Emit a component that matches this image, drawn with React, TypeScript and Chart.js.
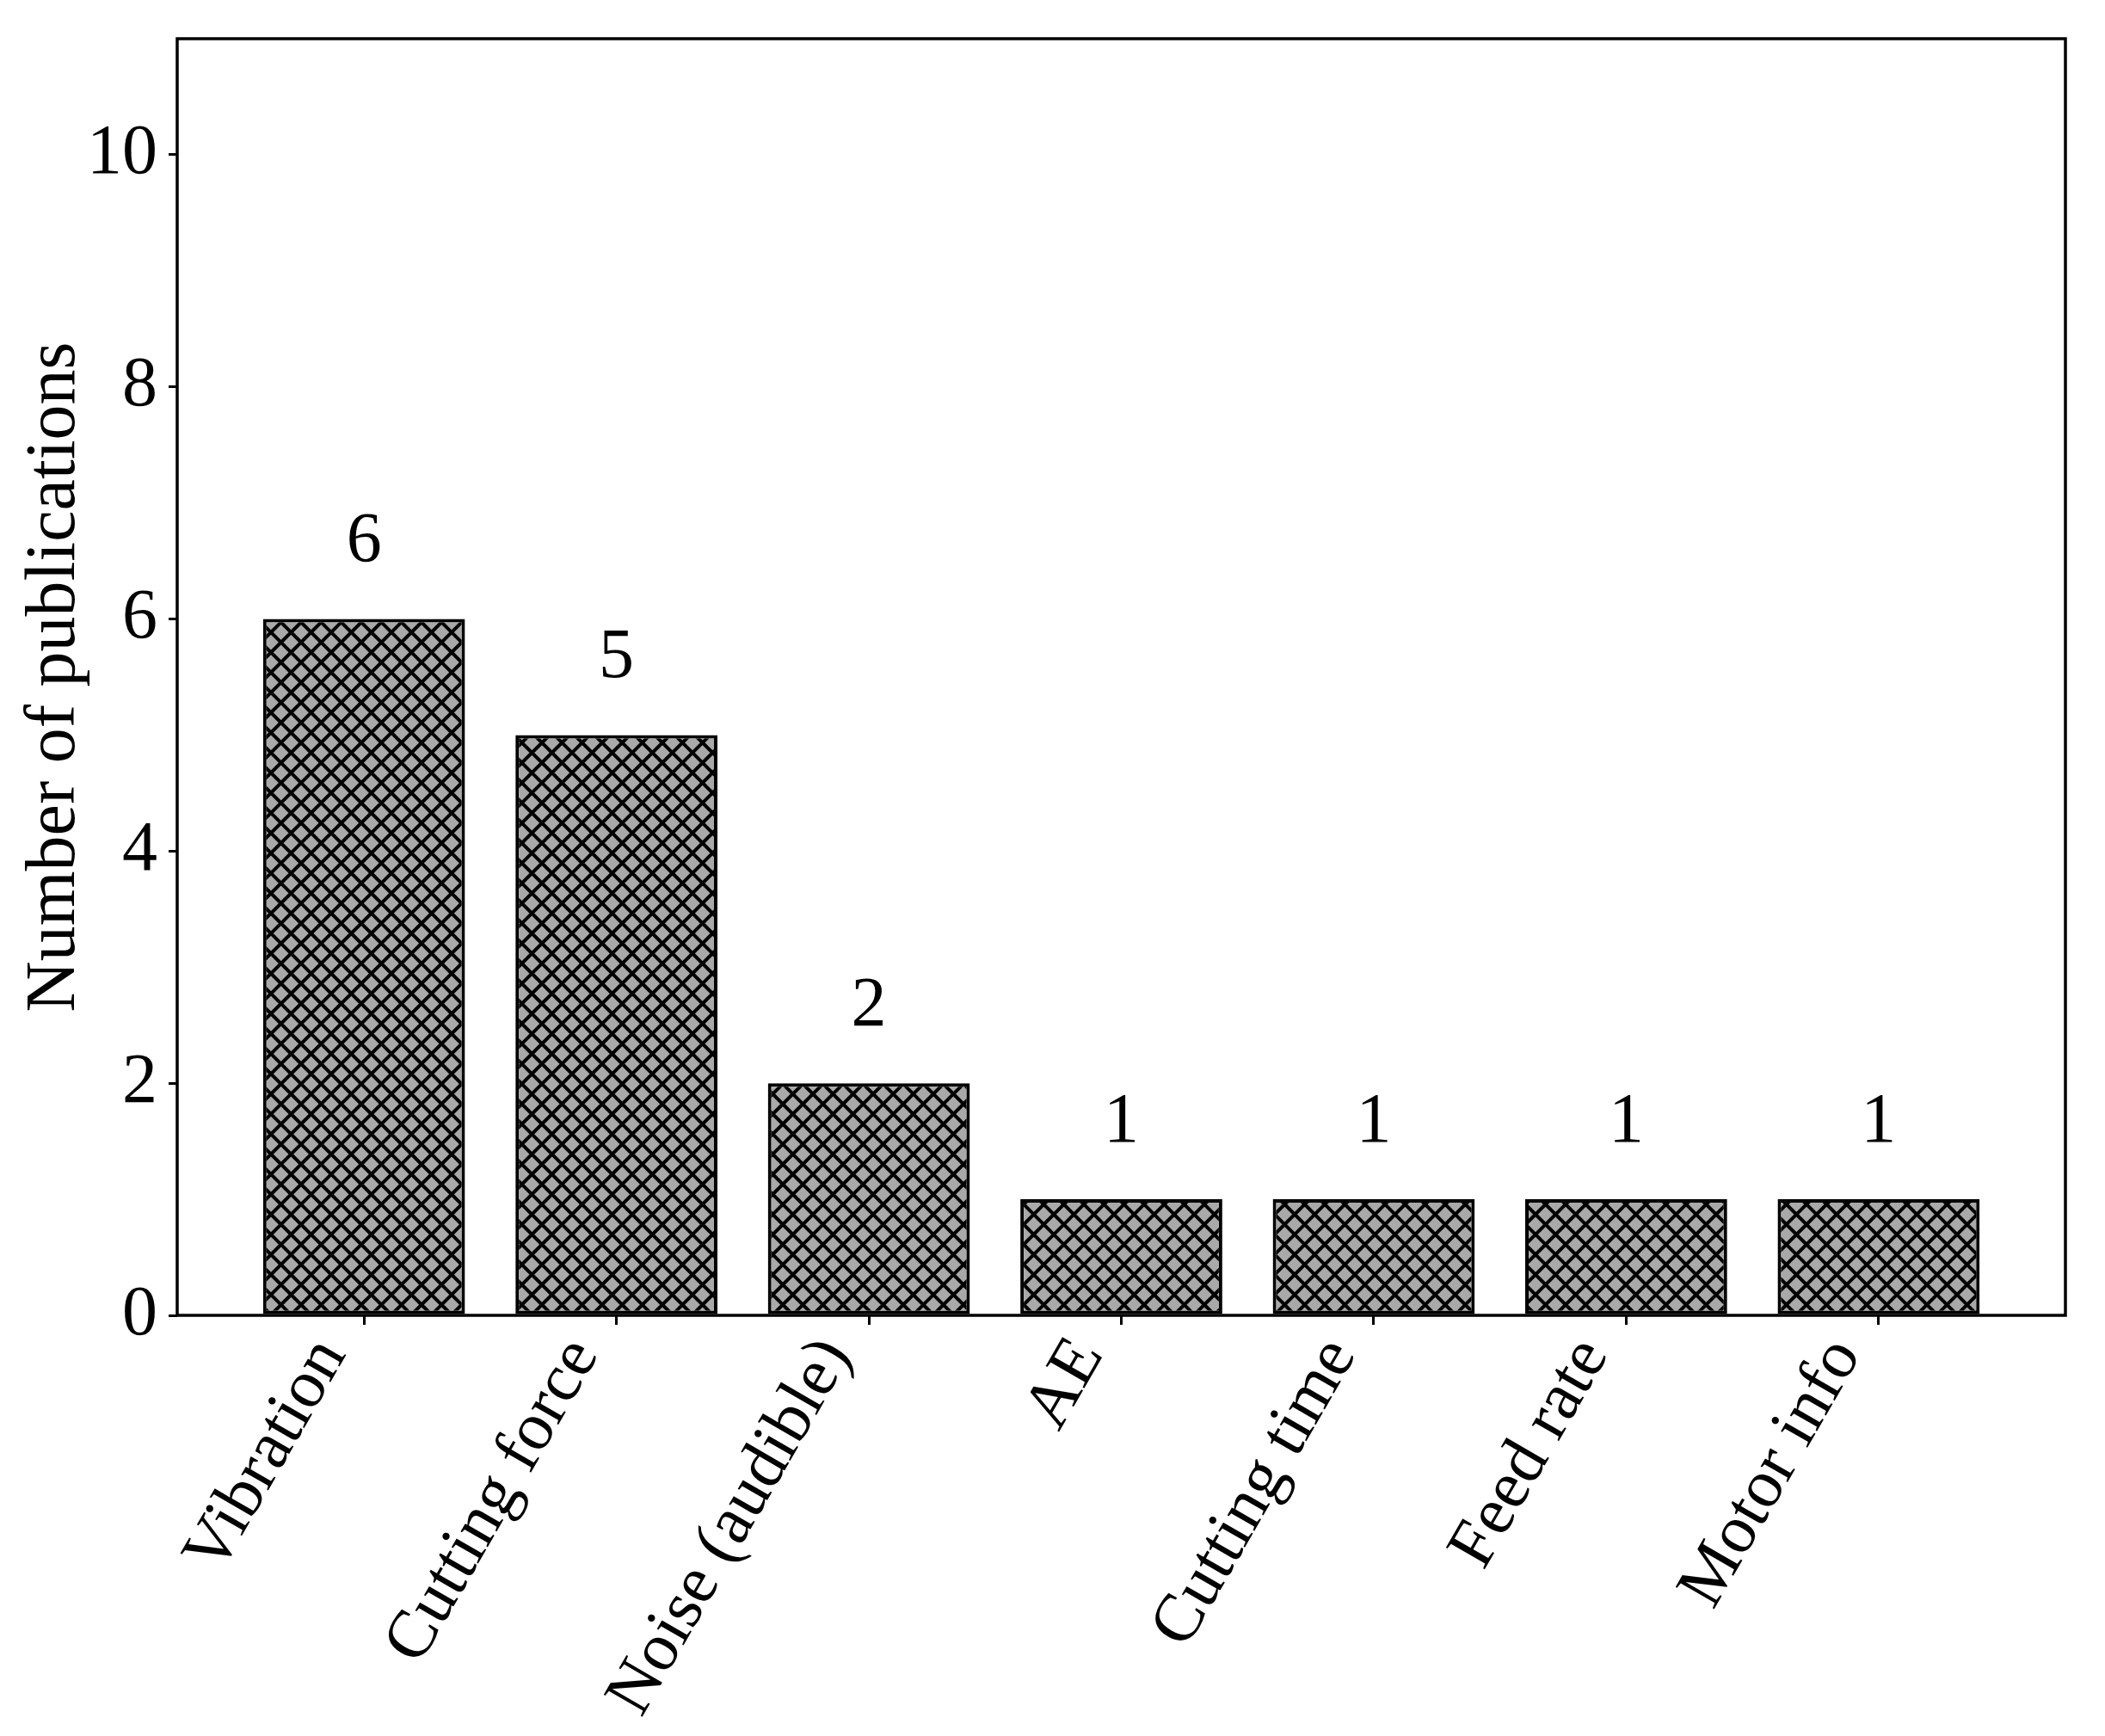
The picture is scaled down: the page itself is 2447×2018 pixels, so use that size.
import React, { useEffect, useRef } from "react";
import { Chart, registerables } from "chart.js";

Chart.register(...registerables);

const categories = [
  "Vibration",
  "Cutting force",
  "Noise (audible)",
  "AE",
  "Cutting time",
  "Feed rate",
  "Motor info",
];
const publications = [6, 5, 2, 1, 1, 1, 1];
const yTicks = [0, 2, 4, 6, 8, 10];
const yTitle = "Number of publications";

const FONT = "'Liberation Serif', 'DejaVu Serif', serif";
const FONT_SIZE = 82;
const X_FONT_SIZE = 79;

function makeHatch(): CanvasPattern | string {
  const period = 70 / 3;
  const size = 70;
  const c = document.createElement("canvas");
  c.width = size;
  c.height = size;
  const ctx = c.getContext("2d");
  if (!ctx) return "#a9a9a9";
  ctx.fillStyle = "#a9a9a9";
  ctx.fillRect(0, 0, size, size);
  ctx.strokeStyle = "#000";
  ctx.lineWidth = 4;
  ctx.beginPath();
  for (let k = -6; k <= 6; k++) {
    const o = k * period;
    ctx.moveTo(-size + o, -size);
    ctx.lineTo(2 * size + o, 2 * size);
    ctx.moveTo(-size, 2 * size + o - size);
    ctx.lineTo(2 * size, -size + o - size);
  }
  ctx.stroke();
  const p = ctx.createPattern(c, "repeat");
  return p || "#a9a9a9";
}

const framePlugin = {
  id: "frame",
  afterDraw(chart: any) {
    const { ctx, chartArea } = chart;
    ctx.save();
    ctx.strokeStyle = "#000";
    ctx.lineWidth = 3.5;
    ctx.strokeRect(
      chartArea.left,
      chartArea.top,
      chartArea.right - chartArea.left,
      chartArea.bottom - chartArea.top
    );
    ctx.restore();
  },
};

const valueLabelPlugin = {
  id: "valueLabels",
  afterDatasetsDraw(chart: any) {
    const { ctx } = chart;
    const meta = chart.getDatasetMeta(0);
    const yScale = chart.scales.y;
    ctx.save();
    ctx.fillStyle = "#000";
    ctx.font = `${FONT_SIZE}px ${FONT}`;
    ctx.textAlign = "center";
    ctx.textBaseline = "alphabetic";
    meta.data.forEach((bar: any, i: number) => {
      const v = publications[i];
      ctx.fillText(String(v), bar.x, yScale.getPixelForValue(v + 0.5));
    });
    ctx.restore();
  },
};

export default function App() {
  const ref = useRef<HTMLCanvasElement | null>(null);

  useEffect(() => {
    if (!ref.current) return;
    const hatch = makeHatch();
    const chart = new Chart(ref.current, {
      type: "bar",
      data: {
        datasets: [
          {
            data: publications.map((v, i) => ({ x: i, y: v })),
            backgroundColor: hatch as any,
            borderColor: "#000",
            borderWidth: 4,
            borderSkipped: false,
            barPercentage: 0.8,
            categoryPercentage: 1,
          },
        ],
      },
      options: {
        responsive: false,
        animation: false,
        devicePixelRatio: 1,
        layout: { padding: { left: 0, top: 45, right: 46, bottom: 0 } },
        plugins: {
          legend: { display: false },
          tooltip: { enabled: false },
        },
        scales: {
          x: {
            type: "linear",
            min: -0.74,
            max: 6.74,
            offset: false,
            afterBuildTicks: (scale: any) => {
              scale.ticks = categories.map((_, i) => ({ value: i }));
            },
            afterFit: (scale: any) => {
              scale.height = 2018 - 1529;
              scale.paddingLeft = 0;
              scale.paddingRight = 0;
            },
            border: { display: false },
            grid: {
              display: true,
              offset: false,
              drawOnChartArea: false,
              drawTicks: true,
              tickLength: 11,
              color: "#000",
              lineWidth: 3,
            },
            ticks: {
              autoSkip: false,
              minRotation: 60,
              maxRotation: 60,
              padding: 0,
              labelOffset: -38,
              color: "#000",
              font: { family: FONT, size: X_FONT_SIZE },
              callback: (value: any) => categories[Math.round(Number(value))] ?? "",
            },
          },
          y: {
            type: "linear",
            min: 0,
            max: 11,
            afterBuildTicks: (scale: any) => {
              scale.ticks = yTicks.map((v) => ({ value: v }));
            },
            afterFit: (scale: any) => {
              scale.width = 206;
              scale.paddingTop = 0;
              scale.paddingBottom = 0;
            },
            border: { display: false },
            grid: {
              display: true,
              drawOnChartArea: false,
              drawTicks: true,
              tickLength: 10,
              color: "#000",
              lineWidth: 3,
            },
            ticks: {
              padding: 13,
              color: "#000",
              font: { family: FONT, size: FONT_SIZE },
            },
            title: {
              display: true,
              text: yTitle,
              color: "#000",
              padding: { top: 15, bottom: 0 },
              font: { family: FONT, size: FONT_SIZE },
            },
          },
        },
      },
      plugins: [framePlugin, valueLabelPlugin],
    });
    return () => chart.destroy();
  }, []);

  return (
    <div style={{ position: "absolute", left: 0, top: 0, width: 2447, height: 2018, background: "#fff" }}>
      <canvas ref={ref} width={2447} height={2018} style={{ display: "block", width: 2447, height: 2018 }} />
    </div>
  );
}
